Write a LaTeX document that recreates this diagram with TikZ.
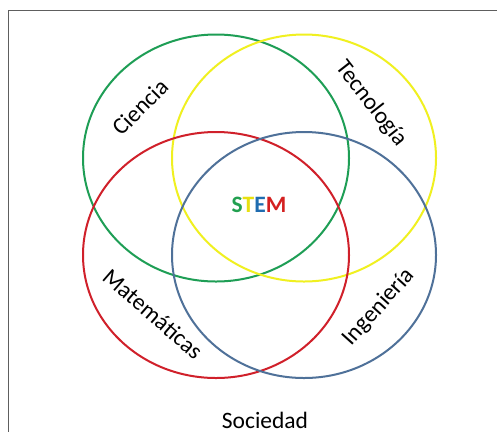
\documentclass[tikz,border=0pt]{standalone}
\usepackage{fontspec}
\setmainfont{Carlito}
\definecolor{cgreen}{HTML}{1E9E55}
\definecolor{cyellow}{HTML}{F0F020}
\definecolor{cred}{HTML}{D0202A}
\definecolor{cblue}{HTML}{4F7199}
\definecolor{sgreen}{HTML}{22A050}
\definecolor{syellow}{HTML}{E8E010}
\definecolor{sblue}{HTML}{1F6CB0}
\definecolor{sred}{HTML}{D42020}
\definecolor{frame}{HTML}{5E5E5E}
\tikzset{
  set/.style={line width=2pt},
  lbl/.style={font=\fontsize{23.5}{28}\selectfont, text=black, inner sep=0pt},
}
\begin{document}
\begin{tikzpicture}[x=1pt,y=-1pt]
\useasboundingbox[fill=white] (0,0) rectangle (497,432);
\draw[frame, line width=1.8pt] (497,10.5) -- (8.5,10.5) -- (8.5,432);
\draw[set, cgreen]  (216,158) ellipse [x radius=133, y radius=123.5];
\draw[set, cyellow] (304,158) ellipse [x radius=132, y radius=123.5];
\draw[set, cred]    (216,255) ellipse [x radius=133, y radius=123];
\draw[set, cblue]   (304,255) ellipse [x radius=132, y radius=123];
\node[lbl, rotate=45]  (ciencia) at (140,107) {Ciencia};
\node[lbl, rotate=-52] (tecno)   at (371,104) {Tecnología};
\node[lbl, rotate=-41] (mate)    at (153,314) {Matemáticas};
\node[lbl, rotate=48]  (inge)    at (379,307) {Ingeniería};
\node[lbl, font=\fontsize{23.5}{28}\selectfont\bfseries] (stem) at (259,205) {\textcolor{sgreen}{S}\textcolor{syellow}{T}\textcolor{sblue}{E}\textcolor{sred}{M}};
\node[lbl, anchor=base] (soc) at (265,428.5) {Sociedad};
\end{tikzpicture}
\end{document}
